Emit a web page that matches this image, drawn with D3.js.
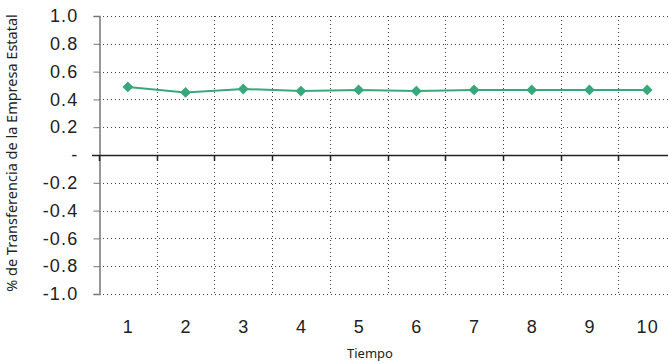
<!DOCTYPE html>
<html>
<head>
<meta charset="utf-8">
<script src="https://cdn.jsdelivr.net/npm/d3@7"></script>
<style>
  body { margin: 0; background: #fff; }
  svg { display: block; }
</style>
</head>
<body>
<div id="chart"></div>
<script>
// chart data
var periods = [1, 2, 3, 4, 5, 6, 7, 8, 9, 10];
var transfer = [0.49, 0.45, 0.475, 0.46, 0.468, 0.46, 0.468, 0.468, 0.468, 0.468];
var yTicks = [1.0, 0.8, 0.6, 0.4, 0.2, 0, -0.2, -0.4, -0.6, -0.8, -1.0];

var width = 668, height = 364;
var plotLeft = 99, plotTop = 16, plotBottom = 294;
var lineColor = "#38a87c";
var numFont = "'Liberation Sans', Arial, sans-serif";
var titleFont = "'Noto Sans', sans-serif";

var svg = d3.select("#chart")
  .append("svg")
  .attr("width", width)
  .attr("height", height);

var x = d3.scaleBand()
  .domain(periods)
  .range([plotLeft, plotLeft + 57.7 * periods.length]);

var y = d3.scaleLinear()
  .domain([-1, 1])
  .range([plotBottom, plotTop]);

// horizontal dotted grid
svg.append("g")
  .selectAll("line")
  .data(yTicks.filter(function(d){ return d !== 0; }))
  .join("line")
  .attr("x1", plotLeft)
  .attr("x2", width)
  .attr("y1", function(d){ return Math.round(y(d)) + 0.5; })
  .attr("y2", function(d){ return Math.round(y(d)) + 0.5; })
  .attr("stroke", "#444")
  .attr("stroke-width", 1)
  .attr("stroke-dasharray", "1,3");

// vertical dotted grid on band edges
svg.append("g")
  .selectAll("line")
  .data(periods.slice(1))
  .join("line")
  .attr("x1", function(d){ return Math.round(x(d)) + 0.5; })
  .attr("x2", function(d){ return Math.round(x(d)) + 0.5; })
  .attr("y1", plotTop)
  .attr("y2", plotBottom)
  .attr("stroke", "#444")
  .attr("stroke-width", 1)
  .attr("stroke-dasharray", "1,3");

// y axis
var yAxis = d3.axisLeft(y)
  .tickValues(yTicks)
  .tickSize(6)
  .tickPadding(15)
  .tickFormat(function(d){ return d === 0 ? "-" : d.toFixed(1); });

var gy = svg.append("g")
  .attr("transform", "translate(" + (plotLeft + 0.5) + ",0)")
  .call(yAxis);
gy.select(".domain").attr("stroke", "#777").attr("stroke-width", 1.5);
gy.selectAll(".tick line").attr("stroke", "#777");
gy.selectAll(".tick text")
  .attr("font-family", numFont)
  .attr("font-size", 18)
  .attr("letter-spacing", 1.2)
  .attr("fill", "#222");

// zero line with ticks at band edges
svg.append("line")
  .attr("x1", plotLeft - 7)
  .attr("x2", width)
  .attr("y1", Math.round(y(0)) + 0.5)
  .attr("y2", Math.round(y(0)) + 0.5)
  .attr("stroke", "#222")
  .attr("stroke-width", 1.5);

svg.append("g")
  .selectAll("line")
  .data(periods)
  .join("line")
  .attr("x1", function(d){ return Math.round(x(d)) + 0.5; })
  .attr("x2", function(d){ return Math.round(x(d)) + 0.5; })
  .attr("y1", y(0))
  .attr("y2", y(0) + 6)
  .attr("stroke", "#222")
  .attr("stroke-width", 1.5);

// x labels
svg.append("g")
  .selectAll("text")
  .data(periods)
  .join("text")
  .attr("x", function(d){ return x(d) + x.bandwidth() / 2 + 0.6; })
  .attr("y", 333)
  .attr("text-anchor", "middle")
  .attr("font-family", numFont)
  .attr("font-size", 18)
  .attr("letter-spacing", 1.2)
  .attr("fill", "#222")
  .text(function(d){ return d; });

// series line and markers
var line = d3.line()
  .x(function(d, i){ return x(periods[i]) + x.bandwidth() / 2; })
  .y(function(d){ return y(d); });

svg.append("path")
  .datum(transfer)
  .attr("d", line)
  .attr("fill", "none")
  .attr("stroke", lineColor)
  .attr("stroke-width", 2);

svg.append("g")
  .selectAll("path")
  .data(transfer)
  .join("path")
  .attr("d", d3.symbol(d3.symbolDiamond2, 75))
  .attr("transform", function(d, i){
    return "translate(" + (x(periods[i]) + x.bandwidth() / 2) + "," + y(d) + ")";
  })
  .attr("fill", lineColor);

// axis titles
svg.append("text")
  .attr("x", 370)
  .attr("y", 358)
  .attr("text-anchor", "middle")
  .attr("font-family", titleFont)
  .attr("font-size", 13)
  .attr("fill", "#222")
  .text("Tiempo");

svg.append("text")
  .attr("transform", "translate(17,153) rotate(-90)")
  .attr("text-anchor", "middle")
  .attr("font-family", titleFont)
  .attr("font-size", 14.5)
  .attr("fill", "#222")
  .text("% de Transferencia de la Empresa Estatal");
</script>
</body>
</html>
